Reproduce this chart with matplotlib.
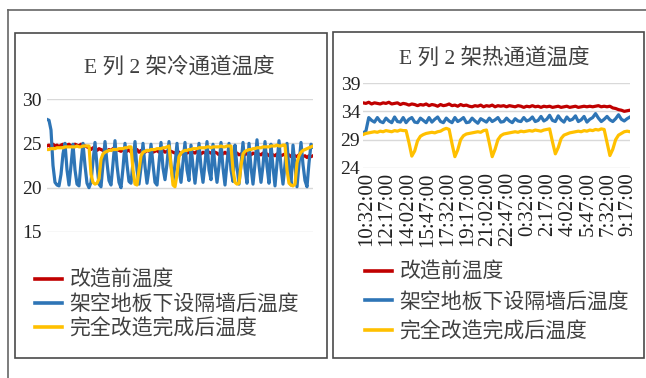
import matplotlib
matplotlib.use("Agg")
import matplotlib.pyplot as plt
import matplotlib.transforms as mtransforms
from matplotlib.patches import Rectangle
from matplotlib.lines import Line2D

plt.rcParams['font.family'] = ['Liberation Serif', 'Noto Sans CJK SC']

# ---------------- data ----------------
series_names = ["改造前温度", "架空地板下设隔墙后温度", "完全改造完成后温度"]
colors = ["#C00000", "#2E75B6", "#FFC000"]

left_title = "E 列 2 架冷通道温度"
right_title = "E 列 2 架热通道温度"

# cold aisle (left)
cold_before = [24.7,24.8,24.6,24.9,24.7,24.8,24.6,24.8,24.9,24.7,24.8,24.9,24.7,24.8,24.9,24.8,24.7,24.9,24.8,24.7,
               24.6,24.5,24.3,24.5,24.4,24.2,24.4,24.3,24.2,24.4,24.1,24.3,24.2,24.4,24.1,24.3,24.2,24.1,24.3,24.2,
               24.1,24.3,24.0,24.2,24.1,24.3,24.0,24.2,24.1,24.0,24.2,24.1,24.3,24.0,24.1,24.2,24.0,24.1,24.2,24.0,
               24.1,23.9,24.1,24.0,23.9,24.1,24.0,23.8,24.0,24.1,23.9,24.0,23.8,24.0,23.9,24.1,23.9,23.8,24.0,23.9,
               23.8,24.0,23.9,23.8,24.0,23.9,23.7,23.9,23.8,24.0,23.8,23.9,23.7,23.9,23.8,23.9,23.7,23.8,23.9,23.7,
               23.9,23.8,23.7,23.9,23.8,23.6,23.8,23.7,23.9,23.7,23.8,23.6,23.8,23.7,23.6,23.8,23.7,23.6,23.7,23.8,
               23.6,23.7,23.5,23.7,23.6,23.5,23.7,23.6,23.5,23.6,23.4,23.6,23.5,23.6]
cold_partition = [27.7,27.6,26.5,22.5,20.6,20.3,20.2,21.5,23.8,25.0,
                  22.0,20.3,22.5,24.9,22.0,20.4,20.2,22.8,25.0,22.5,
                  20.5,20.0,20.6,23.0,25.1,22.5,20.4,20.1,22.6,25.2,
                  22.8,20.8,20.3,22.7,25.3,22.5,20.6,20.0,22.2,25.0,
                  22.6,20.7,20.5,22.9,25.2,22.0,20.4,22.3,25.0,22.4,
                  20.5,22.1,24.9,22.6,20.6,20.3,22.8,25.1,22.2,20.9,
                  22.7,25.2,22.5,20.8,22.6,25.0,22.1,20.6,22.9,25.1,
                  22.0,20.8,24.8,22.4,20.5,22.6,25.0,22.3,20.6,22.7,
                  25.2,22.0,20.9,24.9,22.5,20.6,22.5,25.1,22.2,20.3,
                  22.8,25.0,22.0,20.7,24.8,22.4,20.4,22.6,25.1,22.2,
                  20.5,25.0,22.3,20.4,22.7,25.4,22.5,20.6,22.5,25.2,
                  22.4,20.5,24.9,22.3,20.2,22.8,25.3,22.3,20.4,22.6,
                  25.0,22.0,20.3,24.8,22.4,20.1,22.7,25.1,22.6,20.8,
                  20.1,22.8,24.9,24.6]
cold_complete = [24.3,24.3,24.4,24.4,24.4,24.5,24.5,24.5,24.5,24.6,24.6,24.6,24.6,24.6,24.6,24.7,24.6,24.6,24.7,24.7,24.7,
                 24.7,21.5,20.6,20.4,20.5,21.0,23.2,23.8,24.0,24.1,
                 24.2,24.2,24.3,24.3,24.3,24.4,24.4,24.4,24.5,24.5,24.6,24.6,
                 22.0,20.4,20.3,22.0,23.6,24.0,24.1,
                 24.2,24.2,24.3,24.3,24.3,24.4,24.4,24.4,24.5,24.5,24.6,24.7,
                 22.5,20.3,20.1,21.5,23.5,23.9,24.1,
                 24.2,24.2,24.3,24.3,24.4,24.4,24.4,24.5,24.5,24.5,24.5,24.6,24.6,24.5,24.6,24.6,24.6,24.6,24.7,24.6,24.6,24.7,24.7,24.7,
                 22.0,20.6,20.4,20.5,22.5,23.8,24.1,
                 24.2,24.3,24.3,24.4,24.4,24.5,24.5,24.5,24.6,24.6,24.6,24.6,24.7,24.7,24.7,24.8,24.7,24.7,24.8,24.8,
                 22.0,20.5,20.3,20.2,20.4,22.8,23.6,24.0,24.2,24.3,24.4,24.5,24.6,24.7]

# hot aisle (right), one value every 15 min from 10:32
hot_before = [35.5,35.4,35.6,35.3,35.5,35.4,35.3,35.5,35.4,35.6,
              35.3,35.4,35.5,35.2,35.4,35.3,35.1,35.3,35.2,35.0,
              35.2,35.1,35.3,35.0,35.2,35.1,34.9,35.2,35.0,35.1,
              35.3,35.0,35.1,34.9,35.2,35.0,35.1,34.9,34.8,35.0,
              34.9,35.1,34.8,35.0,34.9,35.1,34.8,35.0,34.9,35.0,
              34.8,35.0,34.9,34.8,35.0,34.9,34.7,34.9,34.8,35.0,
              34.8,34.9,34.7,34.9,34.8,34.9,34.7,34.8,34.9,34.7,
              34.8,34.9,34.7,34.8,34.9,34.7,34.8,34.9,34.8,34.9,
              34.8,34.9,35.0,34.8,34.9,34.8,34.9,34.6,34.5,34.3,34.2,34.0,34.1,34.2]
hot_partition = [30.2,30.5,32.9,32.4,32.1,32.9,32.2,32.0,32.8,32.3,
                 32.0,33.0,32.2,32.1,32.9,32.0,32.6,32.9,32.1,32.0,
                 32.8,32.4,32.0,32.9,32.1,32.6,33.0,32.2,32.0,32.8,
                 32.3,32.0,32.9,32.2,32.5,32.9,32.0,32.1,32.8,32.3,
                 31.9,32.7,32.4,32.1,32.8,32.2,32.5,32.9,32.1,32.2,
                 32.8,32.3,32.0,32.7,32.3,32.2,32.9,32.3,32.5,33.0,
                 32.2,32.4,33.1,32.3,32.6,33.3,32.4,32.2,33.2,32.5,
                 32.1,33.0,32.4,32.6,33.2,32.2,32.5,33.1,32.1,32.6,
                 32.9,33.6,32.8,32.2,32.6,33.1,32.5,32.2,32.7,33.4,32.6,32.3,32.7,33.0]
hot_complete = [29.9,30.1,30.2,30.3,30.4,30.3,30.5,30.4,30.6,30.5,30.4,30.6,30.5,30.7,30.6,
                30.6,28.5,26.1,27.0,28.8,29.6,29.9,
                30.1,30.2,30.3,30.2,30.4,30.5,30.8,31.0,
                30.8,28.3,26.0,27.2,29.0,29.7,
                30.0,30.1,30.2,30.3,30.4,30.3,30.6,30.7,
                28.4,26.0,27.3,29.0,29.7,
                30.0,30.1,30.2,30.3,30.4,30.3,30.5,30.4,30.5,30.6,30.5,30.7,30.6,30.5,30.7,30.8,30.9,
                28.6,26.5,27.6,29.2,29.8,
                30.0,30.2,30.3,30.4,30.5,30.4,30.6,30.5,30.7,30.6,30.8,30.7,30.9,30.8,
                28.5,26.2,27.3,29.0,29.8,30.1,30.4,30.5,30.4]

hot_tick_labels = ["10:32:00", "12:17:00", "14:02:00", "15:47:00", "17:32:00", "19:17:00", "21:02:00",
                   "22:47:00", "0:32:00", "2:17:00", "4:02:00", "5:47:00", "7:32:00", "9:17:00"]
hot_tick_step = 7

left_yticks = [15, 20, 25, 30]
right_yticks = [24, 29, 34, 39]

# ---------------- figure ----------------
W, H = 646, 378
fig = plt.figure(figsize=(W / 100, H / 100), dpi=100)

def fx(x):
    return x / W

def fy(y):
    return 1 - y / H

frame_col = "#4a4a4a"
# outer frame lines
fig.add_artist(Line2D([fx(8), fx(646)], [fy(10), fy(10)], color="#666666", lw=1.2, transform=fig.transFigure))
fig.add_artist(Line2D([fx(8), fx(8)], [fy(10), fy(378)], color="#666666", lw=1.2, transform=fig.transFigure))
# panel boxes
fig.add_artist(Rectangle((fx(15), fy(358)), fx(327) - fx(15), fy(33) - fy(358), fill=False,
                         ec=frame_col, lw=1.2, transform=fig.transFigure))
fig.add_artist(Rectangle((fx(333), fy(358)), fx(644) - fx(333), fy(32) - fy(358), fill=False,
                         ec=frame_col, lw=1.2, transform=fig.transFigure))

text_col = "#404040"
lw_series = 2.3

def style_axes(ax, yticks, ylim):
    for s in ax.spines.values():
        s.set_visible(False)
    ax.set_facecolor("none")
    ax.set_ylim(*ylim)
    ax.set_yticks(yticks)
    ax.grid(axis="y", color="#d9d9d9", lw=1.0)
    ax.set_axisbelow(True)
    ax.tick_params(axis="y", length=0, labelsize=14, labelcolor="#222222", pad=4)

# left axes
axL = fig.add_axes([fx(47), fy(232), fx(313) - fx(47), fy(99) - fy(232)])
style_axes(axL, left_yticks, (15, 30))
axL.plot(list(range(len(cold_before))), cold_before, color=colors[0], lw=lw_series, label=series_names[0])
axL.plot(list(range(len(cold_partition))), cold_partition, color=colors[1], lw=lw_series, label=series_names[1])
axL.plot(list(range(len(cold_complete))), cold_complete, color=colors[2], lw=lw_series, label=series_names[2])
axL.set_xlim(0, len(cold_before) - 1)
axL.set_xticks([])
fig.text(fx(179), fy(67), left_title, ha="center", va="center", fontsize=15.5, color=text_col)

# right axes
axR = fig.add_axes([fx(363), fy(168), fx(630) - fx(363), fy(83) - fy(168)])
style_axes(axR, right_yticks, (24, 39))
axR.plot(list(range(len(hot_before))), hot_before, color=colors[0], lw=lw_series, label=series_names[0])
axR.plot(list(range(len(hot_partition))), hot_partition, color=colors[1], lw=lw_series, label=series_names[1])
axR.plot(list(range(len(hot_complete))), hot_complete, color=colors[2], lw=lw_series, label=series_names[2])
axR.set_xlim(0, len(hot_before) - 1)
axR.set_xticks([i * hot_tick_step for i in range(len(hot_tick_labels))])
axR.set_xticklabels(hot_tick_labels, rotation=90, fontsize=15, color="#222222")
axR.tick_params(axis="x", length=0, pad=3)
axR.tick_params(axis="y", pad=2)
shift = mtransforms.ScaledTranslation(4 / 100, 0, fig.dpi_scale_trans)
for lbl in axR.get_xticklabels():
    lbl.set_transform(lbl.get_transform() + shift)
fig.text(fx(494), fy(58), right_title, ha="center", va="center", fontsize=15.5, color=text_col)

# legends
for ax, x0, y0, sp in [(axL, 35, 271, 0.2), (axR, 365, 263, 0.47)]:
    leg = ax.legend(loc="upper left", bbox_to_anchor=(fx(x0), fy(y0)), bbox_transform=fig.transFigure,
                    frameon=False, fontsize=15, handlelength=1.3, handletextpad=0.35,
                    borderpad=0, borderaxespad=0, labelspacing=sp)
    for t in leg.get_texts():
        t.set_color(text_col)
    for h in leg.get_lines():
        h.set_linewidth(2.6)

fig.savefig("out.png", dpi=100)
